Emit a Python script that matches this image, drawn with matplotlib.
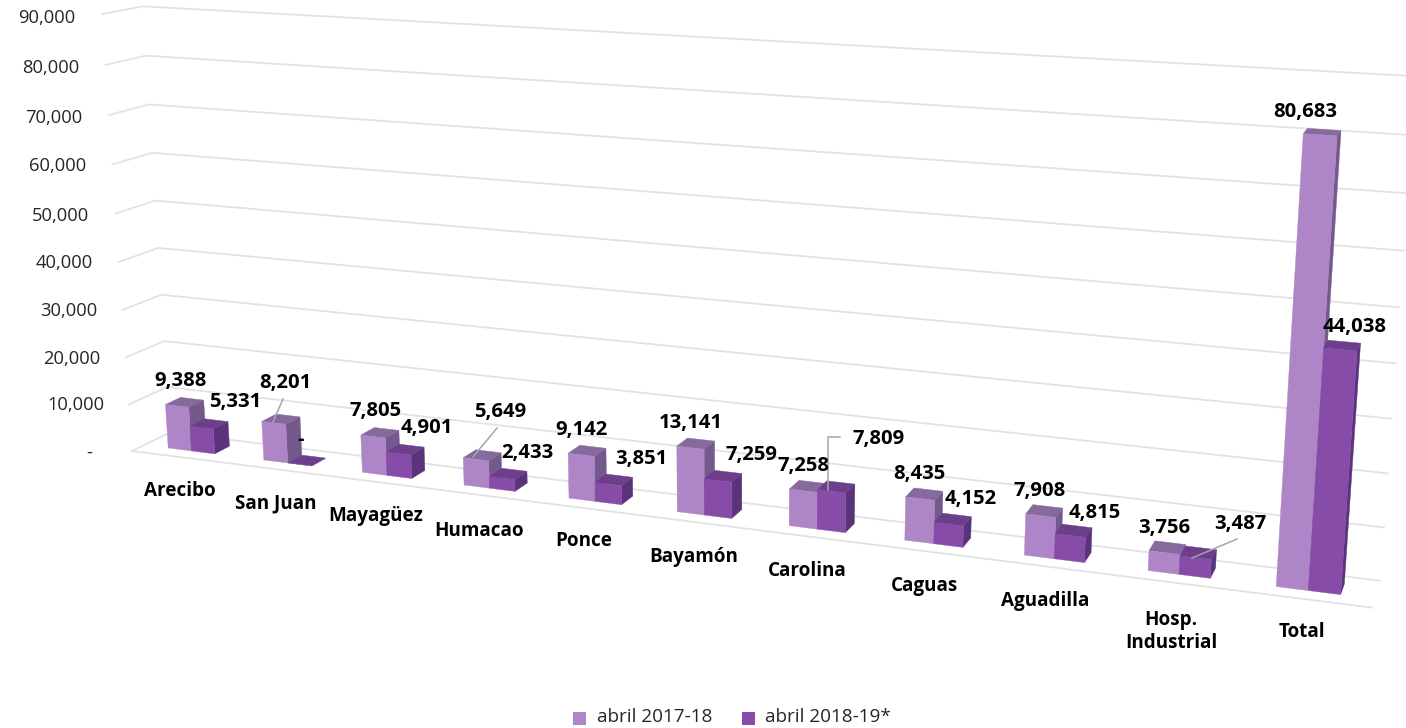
import numpy as np
import matplotlib
matplotlib.use("Agg")
import matplotlib.pyplot as plt
from matplotlib.patches import Polygon, Rectangle

categories = ["Arecibo", "San Juan", "Mayagüez", "Humacao", "Ponce", "Bayamón",
              "Carolina", "Caguas", "Aguadilla", "Hosp.\nIndustrial", "Total"]
series_2017 = [9388, 8201, 7805, 5649, 9142, 13141, 7258, 8435, 7908, 3756, 80683]
series_2018 = [5331, 0, 4901, 2433, 3851, 7259, 7809, 4152, 4815, 3487, 44038]
ticks = list(range(0, 90001, 10000))
series_names = ["abril 2017-18", "abril 2018-19*"]

W, H = 1406, 728
FONT = "Open Sans"
VMAX = 90000.0

# Perspective camera calibrated on the chart box: (u along axis, d depth, v value fraction) -> pixel
calib = [
    ((0, 0, 0), (133, 451)), ((0, 1, 0), (168, 433)), ((1, 1, 0), (1380, 580)), ((1, 0, 0), (1372, 608)),
    ((0, 1, 1), (143, 6)), ((1, 1, 1), (1416, 76)), ((0, 0, 1), (101, 15)),
    ((0, 1, 4/9), (160, 248)), ((1, 1, 4/9), (1396, 364)), ((0, 0, 4/9), (119, 261)),
]
A, b = [], []
for (u, d, v), (px, py) in calib:
    A.append([u, d, v, 1, 0, 0, 0, 0, -px*u, -px*d, -px*v]); b.append(px)
    A.append([0, 0, 0, 0, u, d, v, 1, -py*u, -py*d, -py*v]); b.append(py)
P = np.append(np.linalg.lstsq(np.array(A, float), np.array(b, float), rcond=None)[0], 1).reshape(3, 4)

def proj(u, d, val):
    q = P @ np.array([u, d, val / VMAX, 1.0])
    return q[0] / q[2], q[1] / q[2]

fig = plt.figure(figsize=(W / 100, H / 100), dpi=100)
ax = fig.add_axes([0, 0, 1, 1])
ax.set_xlim(0, W); ax.set_ylim(H, 0); ax.axis("off")

GRID = "#E2E2E2"
for t in ticks:
    pts = [proj(0, 0, t), proj(0, 1, t), proj(1, 1, t)]
    ax.plot(*zip(*pts), color=GRID, lw=1.3, solid_joinstyle="miter", zorder=1)
ax.plot(*zip(proj(0, 0, 0), proj(1, 0, 0)), color=GRID, lw=1.3, zorder=1)

LIGHT = ("#AE85C7", "#74598C", "#866A9E")
DARK = ("#864CA8", "#5A337A", "#6C3E8C")
n = len(categories)
GROUP = 0.49
D0, D1 = 0.32, 0.72

def bar(u0, u1, val, cols, z):
    front = [proj(u0, D0, 0), proj(u1, D0, 0), proj(u1, D0, val), proj(u0, D0, val)]
    side = [proj(u1, D0, 0), proj(u1, D1, 0), proj(u1, D1, val), proj(u1, D0, val)]
    top = [proj(u0, D0, val), proj(u1, D0, val), proj(u1, D1, val), proj(u0, D1, val)]
    for poly, c in ((side, cols[1]), (top, cols[2]), (front, cols[0])):
        ax.add_patch(Polygon(poly, closed=True, facecolor=c, edgecolor=c, lw=0.3, zorder=z))

for i in range(n):
    mid = (i + 0.5) / n
    w = GROUP / n / 2
    bar(mid - w, mid, series_2017[i], LIGHT, 3 + 2 * i)
    bar(mid, mid + w, series_2018[i], DARK, 4 + 2 * i)

# Axis labels
tick_pos = [(92, 453), (104, 405), (100, 359), (97, 311), (93, 263), (89, 216), (86, 166), (82, 118), (79, 68), (75, 18)]
for t, (x, y) in zip(ticks, tick_pos):
    ax.text(x, y, "-" if t == 0 else f"{t:,}", ha="right", va="center", family=FONT, fontsize=13.2, color="#262626")

# Category labels
cat_pos = [(180, 491), (276, 503), (376, 516), (479, 531), (584, 541), (694, 557), (807, 571), (924, 586), (1045, 601), (1171, 632), (1302, 632)]
for c, (x, y) in zip(categories, cat_pos):
    ax.text(x, y, c, ha="center", va="center", family=FONT, fontsize=13.6, fontweight="bold", color="black", linespacing=1.2, zorder=60)

# Value labels
pos_2017 = [(181, 381), (285, 383), (376, 411), (500, 412), (582, 430), (691, 423), (803, 466), (919, 474), (1040, 491), (1164, 528), (1305, 112)]
pos_2018 = [(235, 402), (301, 440), (427, 428), (527, 453), (641, 459), (751, 455), (879, 439), (971, 499), (1095, 513), (1240, 524), (1355, 327)]
for vals, poss in ((series_2017, pos_2017), (series_2018, pos_2018)):
    for v, (x, y) in zip(vals, poss):
        ax.text(x, y, f"{v:,}" if v else "-", ha="center", va="center", family=FONT, fontsize=14.6, fontweight="bold", color="black", zorder=60)

# Leader lines
leaders = [[(283, 399), (273, 422)], [(497, 428), (473, 457)], [(840, 437), (828, 437), (828, 490)], [(1237, 539), (1192, 558)]]
for l in leaders:
    ax.plot(*zip(*l), color="#A6A6A6", lw=1.1, zorder=50)

# Legend
for (sx, tx), name, c in zip(((573, 597), (742, 765)), series_names, (LIGHT[0], DARK[0])):
    ax.add_patch(Rectangle((sx, 712), 13, 13, facecolor=c, edgecolor="none"))
    ax.text(tx, 717.5, name, ha="left", va="center", family=FONT, fontsize=13.6, color="#262626")

fig.savefig("out.png", dpi=100)
